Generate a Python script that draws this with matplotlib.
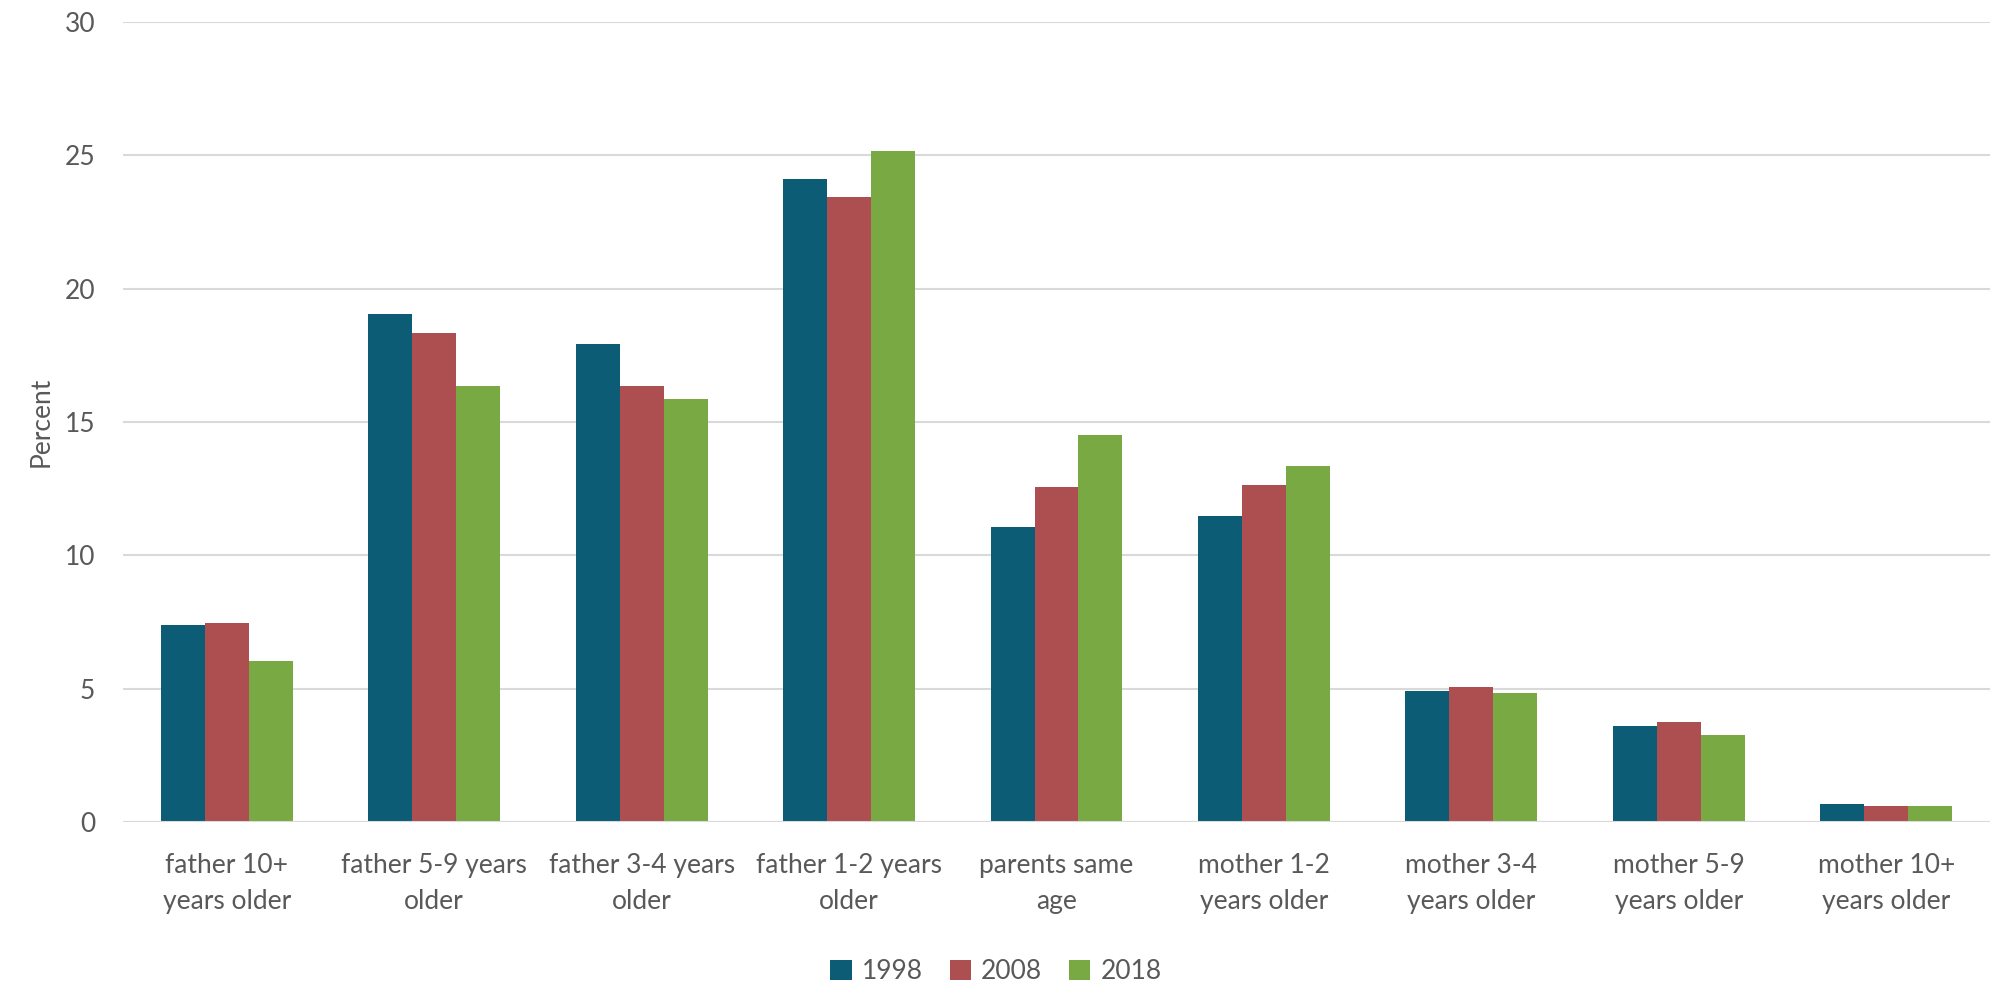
import numpy as np
import matplotlib.pyplot as plt

# Data
categories = ["father 10+\nyears older", "father 5-9 years\nolder", "father 3-4 years\nolder",
              "father 1-2 years\nolder", "parents same\nage", "mother 1-2\nyears older",
              "mother 3-4\nyears older", "mother 5-9\nyears older", "mother 10+\nyears older"]
years = ["1998", "2008", "2018"]
v1998 = [7.4, 19.05, 17.92, 24.1, 11.07, 11.49, 4.9, 3.6, 0.67]
v2008 = [7.45, 18.32, 16.36, 23.45, 12.55, 12.65, 5.05, 3.75, 0.6]
v2018 = [6.05, 16.36, 15.87, 25.15, 14.5, 13.36, 4.83, 3.25, 0.6]
colors = ["#0B5C74", "#AD4F51", "#79A943"]

plt.rcParams['font.family'] = ['Lato', 'DejaVu Sans']
txt = "#595959"

fig = plt.figure(figsize=(19.92, 9.83), dpi=100)
ax = fig.add_axes([123/1992, 1 - 822/983, (1990-123)/1992, 800/983])

x = np.arange(len(categories))
w = 0.212
for i, (vals, lab) in enumerate(zip([v1998, v2008, v2018], years)):
    ax.bar(x + (i - 1) * w, vals, w, color=colors[i], label=lab, zorder=3)

ax.set_xlim(-0.5, len(categories) - 0.5)
ax.set_ylim(0, 30)
ax.set_yticks(range(0, 31, 5))
ax.grid(axis='y', color='#D9D9D9', linewidth=1.5, zorder=0)
for s in ax.spines.values():
    s.set_visible(False)
ax.axhline(0, color='#D9D9D9', linewidth=1.5, zorder=4)
ax.set_xticks(x)
ax.set_xticklabels(categories, fontsize=19, color=txt, linespacing=1.55)
ax.tick_params(axis='both', length=0, labelcolor=txt, labelsize=19)
ax.tick_params(axis='y', pad=20)
ax.tick_params(axis='x', pad=22)
ax.set_ylabel("Percent", fontsize=19, color=txt, labelpad=8)

fig.legend(loc='lower center', bbox_to_anchor=(0.5, -0.025), ncol=3, frameon=False,
           fontsize=19, labelcolor=txt, handlelength=0.8, handleheight=0.8,
           handletextpad=0.4, columnspacing=1.0)

fig.savefig("out.png", dpi=100)
